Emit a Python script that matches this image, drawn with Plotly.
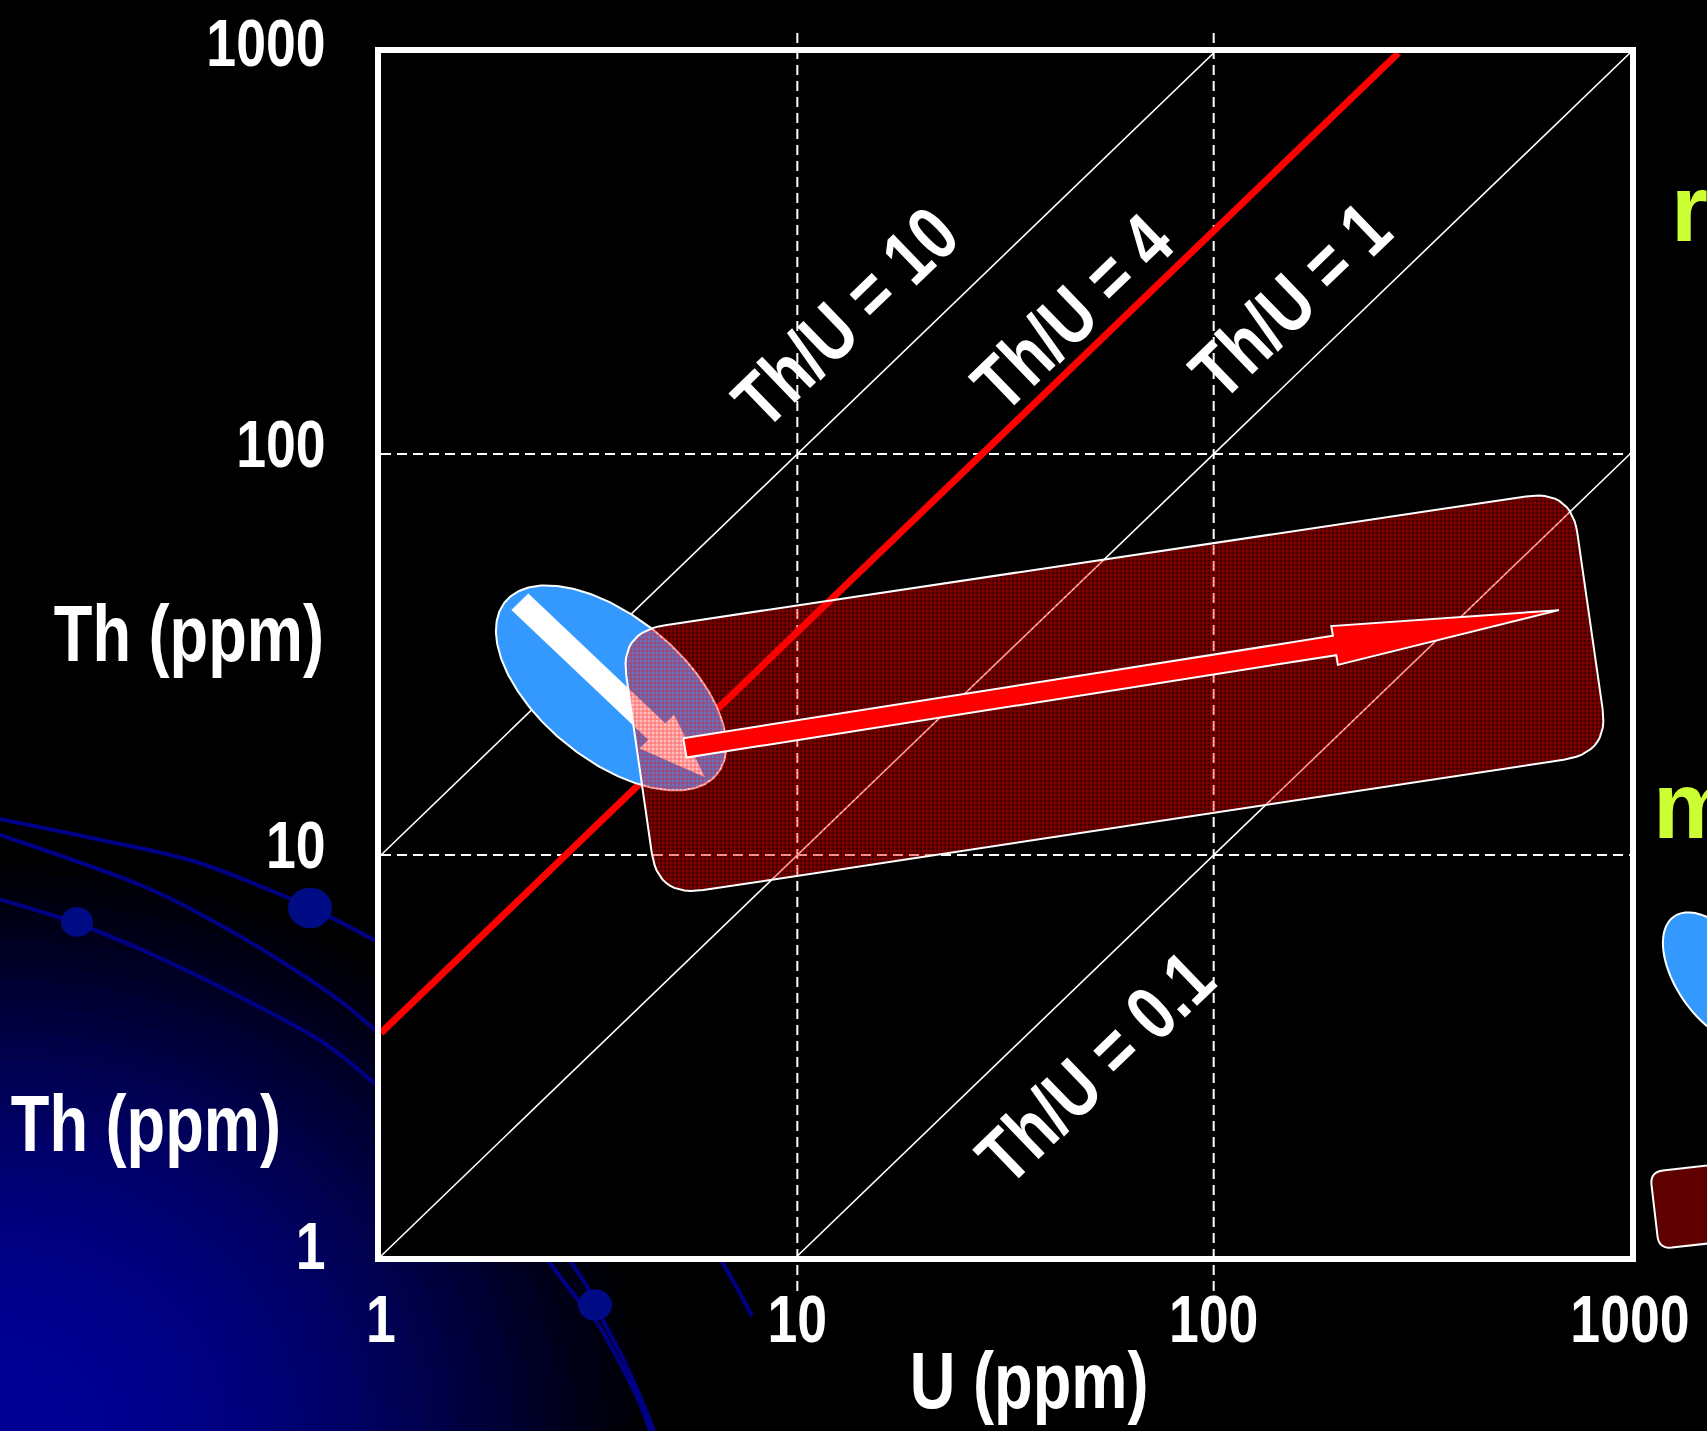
import numpy as np
import plotly.graph_objects as go

# ------------------------------------------------------------------ data
tick_vals = [1, 10, 100, 1000]
tick_text = ["1", "10", "100", "1000"]

ratio_values = [10, 1, 0.1]                       # white Th/U reference lines
ratio_labels = ["Th/U = 10", "Th/U = 1", "Th/U = 0.1"]
red_ratio = 3.6                                    # red reference line as drawn
red_label = "Th/U = 4"

# magmatic field (blue ellipse): centre (U, Th), semi-axes in decades, tilt in deg
magmatic_center_U = 3.57
magmatic_center_Th = 26.1
magmatic_semi_axes = [0.333, 0.176]
magmatic_tilt = -41

# metamorphic field (rounded box) corners
meta_U = [3.75, 722, 890, 4.63]
meta_Th = [36.0, 81.5, 17.97, 7.86]

# trend arrows (tail -> tip)
white_arrow_U = [2.157, 5.98]
white_arrow_Th = [42.8, 15.68]
red_arrow_U = [5.37, 675]
red_arrow_Th = [18.5, 40.8]

# ------------------------------------------------------------------ styling
FONT = "Liberation Sans, Arial, sans-serif"
W, H = 1707, 1431
L_PX, R_PX, T_PX, B_PX = 381, 1630, 53, 1256


def xp(X):
    return (X - L_PX) / (R_PX - L_PX)


def yp(Y):
    return (B_PX - Y) / (B_PX - T_PX)


def ellipse_pts(cu, cth, a, b, tilt_deg, n=240):
    t = np.linspace(0, 2 * np.pi, n)
    th = np.radians(tilt_deg)
    lx = np.log10(cu) + a * np.cos(t) * np.cos(th) - b * np.sin(t) * np.sin(th)
    ly = np.log10(cth) + a * np.cos(t) * np.sin(th) + b * np.sin(t) * np.cos(th)
    return 10 ** lx, 10 ** ly


def rounded_poly_log(us, ths, r, nseg=14):
    P = np.column_stack([np.log10(us), np.log10(ths)])
    out = []
    n = len(P)
    for i in range(n):
        prev, cur, nxt = P[i - 1], P[i], P[(i + 1) % n]
        d1 = (prev - cur) / np.linalg.norm(prev - cur)
        d2 = (nxt - cur) / np.linalg.norm(nxt - cur)
        A = cur + d1 * r
        B = cur + d2 * r
        for s in np.linspace(0, 1, nseg):
            out.append((1 - s) ** 2 * A + 2 * (1 - s) * s * cur + s ** 2 * B)
    out.append(out[0])
    out = np.array(out)
    return 10 ** out[:, 0], 10 ** out[:, 1]


def arrow_pts(us, ths, shaft_w, head_w, head_len):
    p0 = np.log10([us[0], ths[0]])
    p1 = np.log10([us[1], ths[1]])
    d = p1 - p0
    d = d / np.linalg.norm(d)
    nrm = np.array([-d[1], d[0]])
    base = p1 - d * head_len
    pts = [p0 + nrm * shaft_w / 2, base + nrm * shaft_w / 2, base + nrm * head_w / 2,
           p1, base - nrm * head_w / 2, base - nrm * shaft_w / 2, p0 - nrm * shaft_w / 2,
           p0 + nrm * shaft_w / 2]
    pts = np.array(pts)
    return 10 ** pts[:, 0], 10 ** pts[:, 1]


def smooth_path(pts):
    P = [(xp(x), yp(y)) for x, y in pts]
    d = f"M{P[0][0]:.5f},{P[0][1]:.5f}"
    for i in range(len(P) - 1):
        p0 = P[i - 1] if i > 0 else P[i]
        p1, p2 = P[i], P[i + 1]
        p3 = P[i + 2] if i + 2 < len(P) else P[i + 1]
        c1 = (p1[0] + (p2[0] - p0[0]) / 6, p1[1] + (p2[1] - p0[1]) / 6)
        c2 = (p2[0] - (p3[0] - p1[0]) / 6, p2[1] - (p3[1] - p1[1]) / 6)
        d += f" C{c1[0]:.5f},{c1[1]:.5f} {c2[0]:.5f},{c2[1]:.5f} {p2[0]:.5f},{p2[1]:.5f}"
    return d


def poly_path_px(pts):
    return "M" + " L".join(f"{xp(x):.5f},{yp(y):.5f}" for x, y in pts) + " Z"


def rounded_rect_px(corners, r, nseg=10):
    P = np.array(corners, dtype=float)
    out = []
    n = len(P)
    for i in range(n):
        prev, cur, nxt = P[i - 1], P[i], P[(i + 1) % n]
        d1 = (prev - cur) / np.linalg.norm(prev - cur)
        d2 = (nxt - cur) / np.linalg.norm(nxt - cur)
        A = cur + d1 * r
        B = cur + d2 * r
        for s in np.linspace(0, 1, nseg):
            out.append((1 - s) ** 2 * A + 2 * (1 - s) * s * cur + s ** 2 * B)
    return out


fig = go.Figure()

# reference Th/U lines
for r in ratio_values:
    x0, x1 = max(1, 1 / r), min(1000, 1000 / r)
    fig.add_trace(go.Scatter(x=[x0, x1], y=[r * x0, r * x1], mode="lines",
                             line=dict(color="white", width=1.6), hoverinfo="skip"))
rx1 = min(1000, 1000 / red_ratio)
fig.add_trace(go.Scatter(x=[1, rx1], y=[red_ratio, red_ratio * rx1], mode="lines",
                         line=dict(color="#ff0000", width=7), hoverinfo="skip"))

# magmatic ellipse
ex, ey = ellipse_pts(magmatic_center_U, magmatic_center_Th, magmatic_semi_axes[0],
                     magmatic_semi_axes[1], magmatic_tilt)
fig.add_trace(go.Scatter(x=ex, y=ey, mode="lines", fill="toself", fillcolor="#3399ff",
                         line=dict(color="white", width=2), hoverinfo="skip"))

# white arrow
wx, wy = arrow_pts(white_arrow_U, white_arrow_Th, 0.057, 0.117, 0.16)
fig.add_trace(go.Scatter(x=wx, y=wy, mode="lines", fill="toself", fillcolor="white",
                         line=dict(color="white", width=0.5), hoverinfo="skip"))

# metamorphic field
mx, my = rounded_poly_log(meta_U, meta_Th, 0.11)
fig.add_trace(go.Scatter(
    x=mx, y=my, mode="lines", fill="toself", fillcolor="rgba(0,0,0,0)",
    fillpattern=dict(shape="+", size=4, solidity=0.4, fgcolor="#ff0000", fgopacity=0.48,
                     bgcolor="rgba(255,0,0,0.25)", fillmode="replace"),
    line=dict(color="white", width=2), hoverinfo="skip"))

# red arrow
ax_, ay_ = arrow_pts(red_arrow_U, red_arrow_Th, 0.049, 0.098, 0.546)
fig.add_trace(go.Scatter(x=ax_, y=ay_, mode="lines", fill="toself", fillcolor="#ff0000",
                         line=dict(color="white", width=2), hoverinfo="skip"))

# ------------------------------------------------------------------ decorations
shapes = []
gcx, gcy = xp(0), yp(H)
N = 44
for i in range(N):
    k = 1 - i / N
    inten = 150 * max(0.0, 1 - k * k) ** 1.2
    shapes.append(dict(type="circle", xref="paper", yref="paper", xsizemode="pixel",
                       ysizemode="pixel", xanchor=gcx, yanchor=gcy,
                       x0=-665 * k, x1=665 * k, y0=-585 * k, y1=585 * k,
                       fillcolor=f"rgb(0,0,{int(inten)})", line=dict(width=0), layer="below"))

curve_col = "rgb(0,0,135)"
curves = [
    [(-5, 818), (92, 838), (193, 861), (284, 896), (330, 917), (374, 940), (420, 965)],
    [(-5, 833), (138, 884), (220, 925), (284, 963), (339, 1000), (374, 1029), (410, 1058)],
    [(-5, 898), (76, 923), (151, 954), (238, 996), (321, 1041), (374, 1083), (410, 1113)],
    [(535, 1240), (549, 1262), (578, 1300), (600, 1327), (637, 1397), (653, 1440)],
    [(558, 1240), (571, 1262), (587, 1287), (603, 1320), (627, 1367), (647, 1413), (657, 1440)],
    [(708, 1240), (722, 1262), (737, 1288), (752, 1316)],
]
for c in curves:
    shapes.append(dict(type="path", xref="paper", yref="paper", path=smooth_path(c),
                       line=dict(color=curve_col, width=4), layer="below"))

for (cx, cy, rr) in [(310, 908, 22), (77, 922, 16), (595, 1305, 17)]:
    shapes.append(dict(type="circle", xref="paper", yref="paper", xsizemode="pixel",
                       ysizemode="pixel", xanchor=xp(cx), yanchor=yp(cy),
                       x0=-rr, x1=rr, y0=-rr * 0.92, y1=rr * 0.92,
                       fillcolor="#000c86", line=dict(width=0), layer="below"))

# black plot area over the glow
shapes.append(dict(type="rect", xref="paper", yref="paper", x0=0, x1=1, y0=0, y1=1,
                   fillcolor="black", line=dict(width=0), layer="below"))

# dashed grid (shape coordinates are data values on these log axes)
for v in tick_vals[1:3]:
    shapes.append(dict(type="line", xref="x", yref="paper", x0=v, x1=v,
                       y0=yp(1291), y1=yp(31), line=dict(color="white", width=2, dash="10px,6px"),
                       layer="below"))
    shapes.append(dict(type="line", xref="paper", yref="y", x0=0, x1=1, y0=v, y1=v,
                       line=dict(color="white", width=2, dash="10px,6px"), layer="below"))

# partially visible legend swatches at right edge
t = np.linspace(0, 2 * np.pi, 120)
ang = np.radians(55)
sw = [(1717 + 75 * np.cos(a) * np.cos(ang) - 40 * np.sin(a) * np.sin(ang),
       978 + 75 * np.cos(a) * np.sin(ang) + 40 * np.sin(a) * np.cos(ang)) for a in t]
shapes.append(dict(type="path", xref="paper", yref="paper", path=poly_path_px(sw),
                   fillcolor="#3399ff", line=dict(color="white", width=2), layer="above"))
rr_pts = rounded_rect_px([(1650, 1172), (1900, 1144), (1909, 1221), (1659, 1249)], 13)
shapes.append(dict(type="path", xref="paper", yref="paper", path=poly_path_px(rr_pts),
                   fillcolor="rgb(95,0,0)", line=dict(color="white", width=2), layer="above"))

# ------------------------------------------------------------------ text
ann = []
lab_font = dict(family=FONT, size=77, color="white", weight="bold")
label_pos = {"Th/U = 10": (1.1145, 2.3416), "Th/U = 4": (1.6597, 2.355),
             "Th/U = 1": (2.1834, 2.385), "Th/U = 0.1": (1.715, 0.4713)}
for txt in ratio_labels + [red_label]:
    lx, ly = label_pos[txt]
    ann.append(dict(x=lx, y=ly, xref="x", yref="y", text=txt, showarrow=False,
                    textangle=-44, font=lab_font, xanchor="center", yanchor="middle"))

title_font = dict(family=FONT, size=79, color="white", weight="bold")
ann.append(dict(x=xp(1029), y=yp(1380), xref="paper", yref="paper", text="U (ppm)",
                showarrow=False, font=title_font, xanchor="center", yanchor="middle"))
ann.append(dict(x=xp(189), y=yp(633), xref="paper", yref="paper", text="Th (ppm)",
                showarrow=False, font=title_font, xanchor="center", yanchor="middle"))
ann.append(dict(x=xp(146), y=yp(1123), xref="paper", yref="paper", text="Th (ppm)",
                showarrow=False, font=title_font, xanchor="center", yanchor="middle"))

green_font = dict(family=FONT, size=95, color="#ccff33", weight="bold")
ann.append(dict(x=xp(1669), y=yp(208), xref="paper", yref="paper", text="re",
                showarrow=False, font=green_font, xanchor="left", yanchor="middle"))
ann.append(dict(x=xp(1651), y=yp(805), xref="paper", yref="paper", text="m",
                showarrow=False, font=green_font, xanchor="left", yanchor="middle"))

axis_common = dict(type="log", range=[0, 3], tickvals=tick_vals, ticktext=tick_text,
                   showgrid=False, zeroline=False, showline=True, mirror=True,
                   linecolor="white", linewidth=6, ticks="", ticklabeloverflow="allow",
                   automargin=False,
                   tickfont=dict(family=FONT, size=67, color="white", weight="bold"))

fig.update_layout(
    width=W, height=H, autosize=False,
    margin=dict(l=L_PX, r=W - R_PX, t=T_PX, b=H - B_PX, pad=0, autoexpand=False),
    paper_bgcolor="black", plot_bgcolor="black", showlegend=False,
    xaxis=dict(**axis_common, ticklabelstandoff=0),
    yaxis=dict(**axis_common, ticklabelstandoff=36, ticklabelshift=-10),
    shapes=shapes, annotations=ann,
)

# narrow (condensed) rendering of the white bold labels, as in the original slide
post = """
document.body.style.margin='0';document.body.style.overflow='hidden';
var gd = document.getElementById('{plot_id}');
gd.querySelectorAll('text').forEach(function(t){
  var f = (t.style.fill || '').replace(/\\s/g,'');
  if (f === 'rgb(255,255,255)') {
    var L = t.getComputedTextLength();
    if (L > 0) { t.setAttribute('textLength', (L*0.8).toFixed(2));
                 t.setAttribute('lengthAdjust', 'spacingAndGlyphs'); }
  }
});
"""
fig.write_html("out.html", post_script=post, config={"displayModeBar": False})
